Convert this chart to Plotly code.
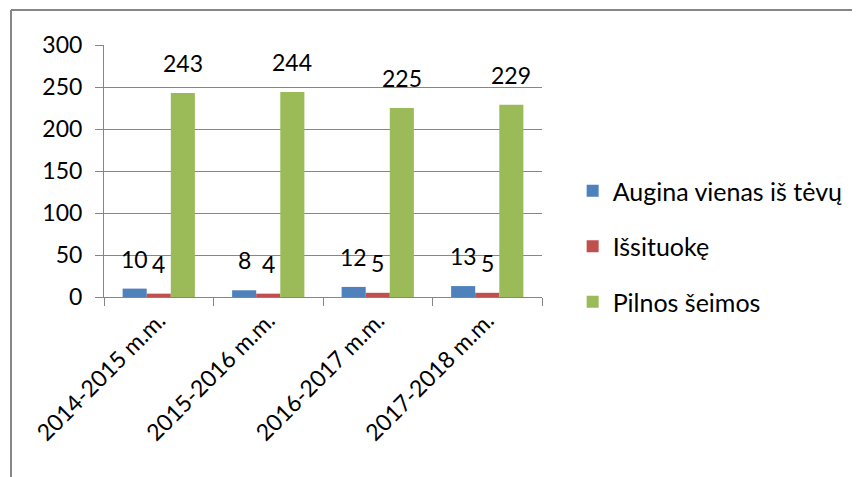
import plotly.graph_objects as go

categories = ["2014-2015 m.m.", "2015-2016 m.m.", "2016-2017 m.m.", "2017-2018 m.m."]
series_names = ["Augina vienas iš tėvų", "Išsituokę", "Pilnos šeimos"]
augina = [10, 8, 12, 13]
issituoke = [4, 4, 5, 5]
pilnos = [243, 244, 225, 229]
colors = ["#4F81BD", "#C0504D", "#9BBB59"]

FONT = "Lato, 'Open Sans', sans-serif"
BAR_PX = 24  # approx bar width in px, used only to shift labels over their bars

fig = go.Figure()
annotations = []
for i, (name, vals, col) in enumerate(zip(series_names, [augina, issituoke, pilnos], colors)):
    fig.add_trace(
        go.Bar(
            x=categories,
            y=vals,
            name=name,
            marker={"color": col, "line": {"width": 0}},
            legendgroup=name,
        )
    )
    for c, v in zip(categories, vals):
        annotations.append(
            dict(
                x=c, y=v, xref="x", yref="y",
                text=str(v), showarrow=False,
                xshift=(i - 1) * BAR_PX, yshift=30,
                font={"size": 23, "color": "black", "family": FONT},
            )
        )

# page body adds 8px, margins below are compensated for that
fig.update_layout(
    width=860,
    height=477,
    barmode="group",
    bargap=0.34,
    bargroupgap=0,
    paper_bgcolor="white",
    plot_bgcolor="white",
    margin={"l": 96, "r": 326, "t": 37, "b": 188},
    font={"family": FONT, "size": 23, "color": "black"},
    legend={
        "x": 1.07, "y": 0.2, "xanchor": "left", "yanchor": "middle",
        "traceorder": "grouped", "tracegroupgap": 20,
        "font": {"size": 25},
    },
    annotations=annotations,
    shapes=[
        dict(type="line", xref="paper", yref="paper",
             x0=-0.2123, x1=1.8, y0=1.139, y1=1.139,
             line={"color": "#868686", "width": 2}),
        dict(type="line", xref="paper", yref="paper",
             x0=-0.2123, x1=-0.2123, y0=1.139, y1=-0.8,
             line={"color": "#868686", "width": 2}),
    ],
)
fig.update_yaxes(
    range=[0, 300],
    dtick=50,
    showgrid=True,
    gridcolor="#868686",
    gridwidth=1,
    showline=True,
    linecolor="#868686",
    ticks="outside",
    ticklen=8,
    tickcolor="#868686",
    tickfont={"size": 23},
    ticklabelstandoff=8,
    zeroline=False,
)
fig.update_xaxes(
    showline=True,
    linecolor="#868686",
    ticks="outside",
    tickson="boundaries",
    ticklen=8,
    tickcolor="#868686",
    tickangle=-45,
    tickfont={"size": 23},
)

fig.write_html("out.html")
